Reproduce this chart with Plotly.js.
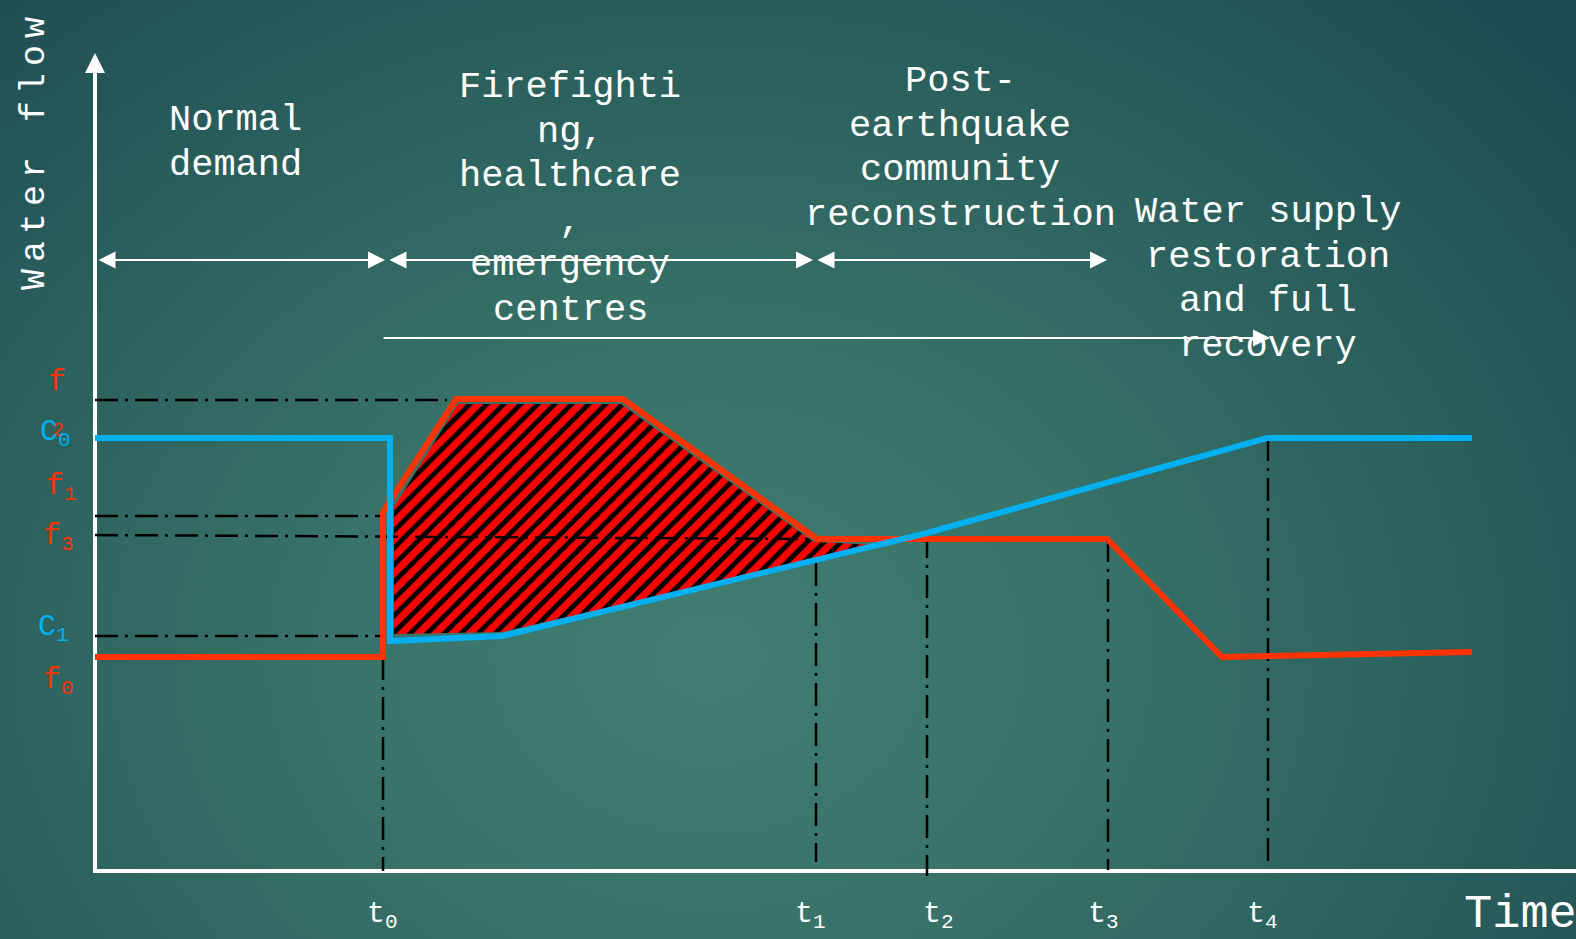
<!DOCTYPE html>
<html>
<head>
<meta charset="utf-8">
<script src="https://cdn.plot.ly/plotly-3.0.1.min.js"></script>
<style>
html, body { margin: 0; padding: 0; width: 1576px; height: 939px; overflow: hidden; }
#chart {
  width: 1576px; height: 939px;
  background: radial-gradient(ellipse 70% 95% at 45% 70%, #417d71 0%, #387268 35%, #2b605d 68%, #1f4d53 100%);
}
</style>
</head>
<body>
<div id="chart"></div>
<script>
// ---- data (time units along the time axis, flow units along the flow axis) ----
const timeMarks = [288, 721, 832, 1013, 1173];
const timeLabels = ['t<sub>0</sub>', 't<sub>1</sub>', 't<sub>2</sub>', 't<sub>3</sub>', 't<sub>4</sub>'];
const markTop = [214, 308, 336, 332, 433];
const markBottom = [0, 9, -5, 1, 3];

// water supply capacity C(t)
const capacityTime = [0, 295, 295, 407, 832, 1172, 1377];
const capacityFlow = [433, 433, 230, 235, 338, 433, 433];

// water demand f(t)
const demandTime = [0, 288, 288, 361, 528, 722, 1012, 1127, 1377];
const demandFlow = [214, 214, 359, 472, 472, 332, 332, 214, 219];

// supply deficit area (between demand and capacity)
const deficitTime = [299, 363, 526, 719, 785, 407, 299];
const deficitFlow = [364, 467, 467, 329, 326, 239, 237];

// reference levels
const levelNames = ['f2', 'f1', 'f3', 'C1'];
const levelStart = [0, 0, 0, 0];
const levelEnd = [352, 289, 722, 289];
const levelFlowStart = [471, 355, 336, 235];
const levelFlowEnd = [471, 355, 332, 235];

// phases
const phaseLines = [
  ['Normal', 'demand'],
  ['Firefighti', 'ng,', 'healthcare', ',', 'emergency', 'centres'],
  ['Post-', 'earthquake', 'community', 'reconstruction'],
  ['Water supply', 'restoration', 'and full', 'recovery']
];
const phaseStart = [2, 293, 721];
const phaseEnd = [290, 718, 1012];
const restorationStart = 287;
const restorationEnd = 1175;

// ---- styling ----
const RED = '#ff3300';
const BLUE = '#00b0f0';
const WHITE = '#ffffff';
const MONO = '"Courier New", "Liberation Mono", monospace';

// build dash-dot guide lines
const guideX = [], guideY = [];
timeMarks.forEach((t, i) => { guideX.push(t, t, null); guideY.push(markTop[i], markBottom[i], null); });
levelNames.forEach((n, i) => { guideX.push(levelStart[i], levelEnd[i], null); guideY.push(levelFlowStart[i], levelFlowEnd[i], null); });

const traces = [
  { // axes
    x: [0, 0, null, -2, 1481], y: [806, 0, null, 0, 0],
    mode: 'lines', line: { color: WHITE, width: 4 }, hoverinfo: 'skip', showlegend: false
  },
  { // deficit hatch
    x: deficitTime, y: deficitFlow, mode: 'lines', fill: 'toself',
    line: { width: 0, color: 'rgba(0,0,0,0)' },
    fillcolor: '#000000',
    fillpattern: { shape: '/', bgcolor: '#000000', fgcolor: '#ff0000', size: 12, solidity: 0.6 },
    hoverinfo: 'skip', showlegend: false
  },
  { // guides
    x: guideX, y: guideY, mode: 'lines', connectgaps: false,
    line: { color: '#000000', width: 2.5, dash: '23px,7px,3px,7px' },
    hoverinfo: 'skip', showlegend: false
  },
  {
    x: demandTime, y: demandFlow, mode: 'lines', name: 'f',
    line: { color: RED, width: 6 }, hoverinfo: 'skip', showlegend: false
  },
  {
    x: capacityTime, y: capacityFlow, mode: 'lines', name: 'C',
    line: { color: BLUE, width: 6 }, hoverinfo: 'skip', showlegend: false
  }
];

const annotations = [];
// y-axis arrow head
annotations.push({ x: 0, y: 818, ax: 0, ay: 790, xref: 'x', yref: 'y', axref: 'x', ayref: 'y',
  text: '', showarrow: true, arrowhead: 2, arrowsize: 1, arrowwidth: 4, arrowcolor: WHITE, standoff: 0 });
// phase arrows
phaseStart.forEach((s, i) => {
  annotations.push({ x: phaseEnd[i], y: 611, ax: s, ay: 611, xref: 'x', yref: 'y', axref: 'x', ayref: 'y',
    text: '', showarrow: true, arrowhead: 2, startarrowhead: 2, arrowside: 'end+start',
    arrowsize: 1.7, startarrowsize: 1.7, arrowwidth: 2, arrowcolor: WHITE, standoff: 0, startstandoff: 0 });
});
annotations.push({ x: restorationEnd, y: 533, ax: restorationStart, ay: 533, xref: 'x', yref: 'y', axref: 'x', ayref: 'y',
  text: '', showarrow: true, arrowhead: 2, arrowsize: 1.7, arrowwidth: 2, arrowcolor: WHITE, standoff: 0 });

// phase texts
const phaseCenterX = [140, 475, 865, 1173];
const phaseFirstY = [751, 784, 790, 659];
const LINE_STEP = 44.6;
phaseLines.forEach((lines, i) => {
  lines.forEach((ln, j) => {
    annotations.push({ x: phaseCenterX[i], y: phaseFirstY[i] - j * LINE_STEP, xref: 'x', yref: 'y',
      text: ln, showarrow: false, xanchor: 'center', yanchor: 'middle',
      font: { family: MONO, size: 37, color: WHITE } });
  });
});

// time labels
const tLabelLeft = [270, 698, 826, 991, 1150];
timeMarks.forEach((t, i) => {
  annotations.push({ x: tLabelLeft[i], y: -44, xref: 'x', yref: 'y', text: timeLabels[i], showarrow: false,
    xanchor: 'left', yanchor: 'middle', font: { family: MONO, size: 30, color: WHITE } });
});

// axis titles
annotations.push({ x: 1367, y: -43, xref: 'x', yref: 'y', text: 'Time', showarrow: false,
  xanchor: 'left', yanchor: 'middle', font: { family: MONO, size: 47, color: WHITE } });
annotations.push({ x: -60, y: 721, xref: 'x', yref: 'y', text: 'Water flow', showarrow: false, textangle: -90,
  xanchor: 'center', yanchor: 'middle', font: { family: MONO, size: 35, color: WHITE } });

// level labels
const levelLabels = [
  { text: 'f', color: RED, x: -49, y: 489, size: 30 },
  { text: '2', color: RED, x: -45, y: 441, size: 20 },
  { text: 'C<sub>0</sub>', color: BLUE, x: -57, y: 438, size: 30 },
  { text: 'f<sub>1</sub>', color: RED, x: -51, y: 384, size: 30 },
  { text: 'f<sub>3</sub>', color: RED, x: -54, y: 334, size: 30 },
  { text: 'C<sub>1</sub>', color: BLUE, x: -59, y: 243, size: 30 },
  { text: 'f<sub>0</sub>', color: RED, x: -54, y: 190, size: 30 }
];
levelLabels.forEach(l => {
  annotations.push({ x: l.x, y: l.y, xref: 'x', yref: 'y', text: l.text, showarrow: false,
    xanchor: 'left', yanchor: 'middle', font: { family: MONO, size: l.size, color: l.color } });
});

const layout = {
  width: 1576, height: 939, autosize: false,
  margin: { l: 0, r: 0, t: 0, b: 0, pad: 0 },
  paper_bgcolor: 'rgba(0,0,0,0)', plot_bgcolor: 'rgba(0,0,0,0)',
  xaxis: { range: [-95, 1481], visible: false, fixedrange: true },
  yaxis: { range: [-68, 871], visible: false, fixedrange: true },
  showlegend: false,
  annotations: annotations
};

Plotly.newPlot('chart', traces, layout, { staticPlot: true, displayModeBar: false }).then(() => {
  document.querySelectorAll('.annotation-text').forEach(el => {
    if (el.textContent === 'Water flow') { el.style.letterSpacing = '7px'; }
  });
});
</script>
</body>
</html>
